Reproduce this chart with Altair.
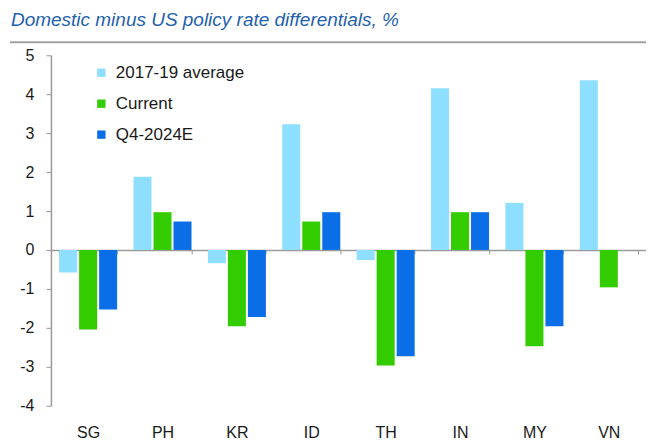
import altair as alt
import pandas as pd

countries = ["SG", "PH", "KR", "ID", "TH", "IN", "MY", "VN"]
series_names = ["2017-19 average", "Current", "Q4-2024E"]
avg_2017_19 = [-0.58, 1.88, -0.34, 3.23, -0.26, 4.15, 1.21, 4.36]
current = [-2.04, 0.97, -1.96, 0.73, -2.97, 0.97, -2.47, -0.96]
q4_2024e = [-1.53, 0.73, -1.72, 0.97, -2.73, 0.97, -1.96, None]
colors = ["#8EDFFF", "#33CC00", "#0A6FE6"]

rows = []
for i, c in enumerate(countries):
    for s, vals in zip(series_names, [avg_2017_19, current, q4_2024e]):
        if vals[i] is not None:
            rows.append({"country": c, "series": s, "value": vals[i]})
df = pd.DataFrame(rows)

W, H = 596, 351
below_zero_px = H * 4 / 9

bars = alt.Chart(df).mark_bar().encode(
    x=alt.X("country:N", sort=countries, title=None,
            scale=alt.Scale(paddingInner=0.22, paddingOuter=0.11),
            axis=alt.Axis(offset=-below_zero_px, domain=True, domainColor="#9a9a9a",
                          domainWidth=1.5, ticks=True, tickBand="extent",
                          tickColor="#9a9a9a", tickSize=4, labelAngle=0,
                          labelPadding=171, labelFont="Liberation Sans",
                          labelFontSize=16, labelColor="#1a1a1a")),
    xOffset=alt.XOffset("series:N", sort=series_names,
                        scale=alt.Scale(paddingInner=0.1)),
    y=alt.Y("value:Q", title=None,
            scale=alt.Scale(domain=[-4, 5], nice=False),
            axis=alt.Axis(values=list(range(-4, 6)), grid=False,
                          labelExpr="datum.value < 0 ? '-' + abs(datum.value) : '' + datum.value",
                          domainColor="#9a9a9a", domainWidth=1.5,
                          tickColor="#9a9a9a", tickSize=5,
                          labelFont="Liberation Sans", labelFontSize=16,
                          labelColor="#1a1a1a", labelPadding=12)),
    color=alt.Color("series:N", sort=series_names,
                    scale=alt.Scale(domain=series_names, range=colors),
                    legend=alt.Legend(title=None, orient="none",
                                      legendX=42, legendY=9,
                                      symbolType="square", symbolSize=70,
                                      symbolStrokeWidth=0,
                                      labelFont="Liberation Sans",
                                      labelFontSize=17, labelColor="#1a1a1a",
                                      labelOffset=6, rowPadding=13)),
)

title_line = alt.Chart(pd.DataFrame({"d": [0]})).mark_rule(
    color="#a0a0a0", strokeWidth=2
).encode(x=alt.value(-41), x2=alt.value(W + 10), y=alt.value(-13))

chart = alt.layer(bars, title_line).properties(
    width=W, height=H,
    title=alt.Title("Domestic minus US policy rate differentials, %",
                    anchor="start", frame="group", dx=-40, offset=11,
                    font="Liberation Sans", fontSize=19, fontStyle="italic",
                    fontWeight="normal", color="#1F5FAF"),
    autosize=alt.AutoSizeParams(type="none"),
    padding={"left": 43, "top": 47, "right": 0, "bottom": 34},
).configure_view(stroke=None)

chart.save("out.html", embed_options={"renderer": "svg", "actions": False})
